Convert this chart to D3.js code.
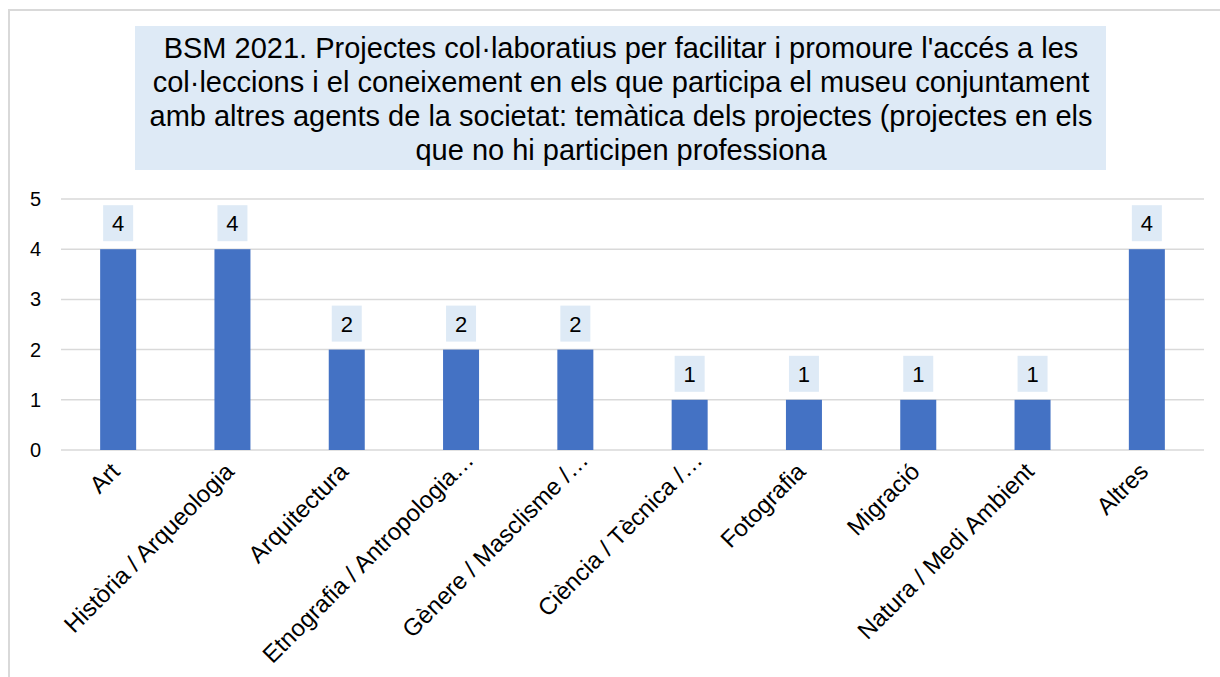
<!DOCTYPE html>
<html>
<head>
<meta charset="utf-8">
<script src="https://cdn.jsdelivr.net/npm/d3@7"></script>
<style>
  html, body { margin: 0; padding: 0; background: #fff; }
  svg { display: block; font-family: "Liberation Sans", Arial, sans-serif; }
</style>
</head>
<body>
<svg id="chart" width="1220" height="677"></svg>
<script>
const categories = [
  "Art",
  "Història / Arqueologia",
  "Arquitectura",
  "Etnografia / Antropologia…",
  "Gènere / Masclisme /…",
  "Ciència / Tècnica /…",
  "Fotografia",
  "Migració",
  "Natura / Medi Ambient",
  "Altres"
];
const values = [4, 4, 2, 2, 2, 1, 1, 1, 1, 4];
const yTicks = [0, 1, 2, 3, 4, 5];
const titleLines = [
  "BSM 2021. Projectes col·laboratius per facilitar i promoure l'accés a les",
  "col·leccions i el coneixement en els que participa el museu conjuntament",
  "amb altres agents de la societat: temàtica dels projectes (projectes en els",
  "que no hi participen professiona"
];

const svg = d3.select("#chart");
const W = 1220, H = 677;
const plot = { left: 61, right: 1204, top: 199, bottom: 450 };
const barColor = "#4472C4";
const boxColor = "#DEEAF6";
const gridColor = "#D9D9D9";

// outer border (chart area frame)
svg.append("rect")
  .attr("x", 9).attr("y", 10)
  .attr("width", W + 20).attr("height", H + 20)
  .attr("fill", "none").attr("stroke", gridColor).attr("stroke-width", 2);

// title box
svg.append("rect")
  .attr("x", 135).attr("y", 26).attr("width", 971).attr("height", 144)
  .attr("fill", boxColor);
const titleText = svg.append("text")
  .attr("text-anchor", "middle")
  .attr("font-size", 29)
  .attr("fill", "#000");
titleLines.forEach((t, i) => {
  titleText.append("tspan")
    .attr("x", 621)
    .attr("y", 58 + i * 34)
    .text(t);
});

const x = d3.scaleBand()
  .domain(categories)
  .range([plot.left, plot.right])
  .paddingInner(0.685)
  .paddingOuter(0.3425);
const y = d3.scaleLinear().domain([0, 5]).range([plot.bottom, plot.top]);

// gridlines
svg.append("g")
  .selectAll("line")
  .data(yTicks)
  .join("line")
  .attr("x1", plot.left).attr("x2", plot.right)
  .attr("y1", d => y(d)).attr("y2", d => y(d))
  .attr("stroke", gridColor).attr("stroke-width", 1.5);

// y axis labels
const yAxis = d3.axisLeft(y).tickValues(yTicks).tickSize(0).tickPadding(0).tickFormat(d3.format("d"));
const yg = svg.append("g").attr("transform", `translate(41,0)`).call(yAxis);
yg.select(".domain").remove();
yg.selectAll("text").attr("font-size", 20).attr("fill", "#000")
  .attr("font-family", "'Liberation Sans', Arial, sans-serif");

// bars
svg.append("g")
  .selectAll("rect")
  .data(values)
  .join("rect")
  .attr("x", (d, i) => x(categories[i]))
  .attr("y", d => y(d))
  .attr("width", x.bandwidth())
  .attr("height", d => y(0) - y(d))
  .attr("fill", barColor);

// data label boxes
const lbl = svg.append("g").selectAll("g")
  .data(values)
  .join("g")
  .attr("transform", (d, i) => `translate(${x(categories[i]) + x.bandwidth() / 2},${y(d) - 8})`);
lbl.append("rect")
  .attr("x", -15).attr("y", -36).attr("width", 30).attr("height", 36)
  .attr("fill", boxColor);
lbl.append("text")
  .attr("text-anchor", "middle")
  .attr("y", -10)
  .attr("font-size", 22)
  .attr("fill", "#000")
  .text(d => d);

// x axis labels
const xAxis = d3.axisBottom(x).tickSize(0).tickPadding(0);
const xg = svg.append("g").attr("transform", `translate(0,${plot.bottom})`).call(xAxis);
xg.select(".domain").remove();
xg.selectAll("text")
  .attr("font-size", 24)
  .attr("fill", "#000")
  .attr("font-family", "'Liberation Sans', Arial, sans-serif")
  .attr("text-anchor", "end")
  .attr("dy", "0.35em")
  .attr("dx", d => d.endsWith("…") ? 16 : 0)
  .attr("transform", "translate(-3,17) rotate(-45)");
</script>
</body>
</html>
